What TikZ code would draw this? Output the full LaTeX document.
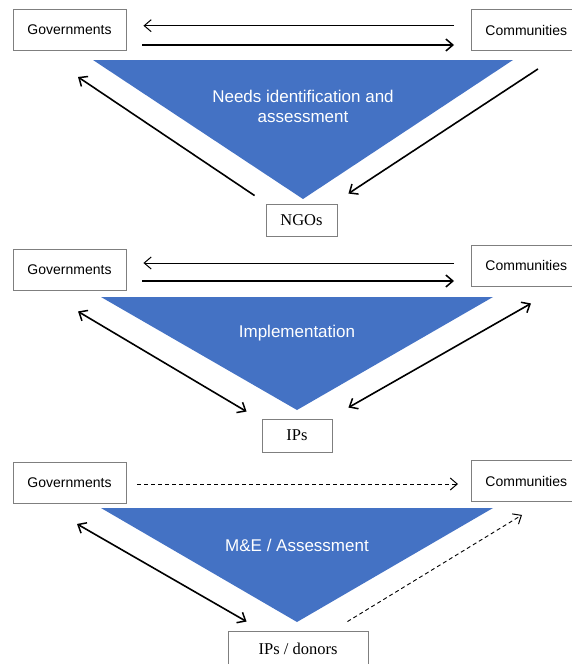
\documentclass[tikz,border=0pt]{standalone}
\usepackage{fontspec}
\setmainfont{Liberation Sans}
\newfontfamily\seriffont{Liberation Serif}
\usetikzlibrary{arrows.meta,calc}
\definecolor{triblue}{HTML}{4472C4}
\definecolor{boxgray}{HTML}{7F7F7F}
\begin{document}
\begin{tikzpicture}[x=1pt,y=-1pt,
 box/.style={draw=boxgray, line width=0.9pt, fill=white, minimum width=113pt, minimum height=41pt, inner sep=0pt, font=\fontsize{14}{16}\selectfont},
 cbox/.style={box, anchor=west, inner xsep=14pt, text width=106pt, align=left},
 sbox/.style={draw=boxgray, line width=0.9pt, fill=white, inner sep=0pt, font=\seriffont\fontsize{16.5}{19}\selectfont},
 tri/.style={fill=triblue},
 trilabel/.style={text=white, align=center, font=\fontsize{17}{20}\selectfont},
 thinarr/.style={line width=0.9pt, -{Straight Barb[length=7pt,width=12pt,line width=1pt]}},
 thickarr/.style={line width=1.9pt, -{Straight Barb[length=7pt,width=12pt,line width=1.5pt]}},
 diag/.style={line width=1.6pt, -{Straight Barb[length=7pt,width=12pt,line width=1.5pt]}},
 ddiag/.style={line width=1.6pt, {Straight Barb[length=7pt,width=12pt,line width=1.5pt]}-{Straight Barb[length=7pt,width=12pt,line width=1.5pt]}},
 dasharr/.style={line width=0.9pt, dash pattern=on 4pt off 3pt, -{Straight Barb[length=7pt,width=12pt,line width=1pt]}},
]
\useasboundingbox (0,0) rectangle (571,664);

% ---------- Panel 1 ----------
\fill[tri] (93,60) -- (513,60) -- (303,199) -- cycle;
\node[trilabel] (t1) at (303,106.5) {Needs identification and\\assessment};
\node[box] (gov1) at (69.5,30) {Governments};
\node[cbox] (com1) at (471,30) {Communities};
\node[sbox, minimum width=71pt, minimum height=32pt] (ngo) at (301.5,220) {NGOs};
\draw[thinarr] ($(com1.west)+(-17,-4.3)$) -- ($(gov1.east)+(17,-4.3)$);
\draw[thickarr] ($(gov1.east)+(16,15)$) -- ($(com1.west)+(-17,15)$);
\draw[diag] ($(ngo.north west)+(-11,-8)$) -- ($(gov1.south)+(8.5,26)$);
\draw[diag] ($(com1.south west)+(67,18)$) -- ($(ngo.north east)+(11,-10)$);

% ---------- Panel 2 ----------
\fill[tri] (101,297) -- (493,297) -- (297,410) -- cycle;
\node[trilabel] (t2) at (297,333) {Implementation};
\node[box] (gov2) at (69.5,269.5) {Governments};
\node[cbox] (com2) at (471,265.5) {Communities};
\node[sbox, minimum width=70pt, minimum height=33pt] (ips) at (297,435.5) {IPs};
\draw[thinarr] ($(com2.west)+(-17,-2.5)$) -- ($(gov2.east)+(17,-6.5)$);
\draw[thickarr] ($(gov2.east)+(16,11.5)$) -- ($(com2.west)+(-17,15.5)$);
\draw[ddiag] ($(gov2.south)+(8.5,21)$) -- ($(ips.north west)+(-15,-7)$);
\draw[ddiag] ($(ips.north east)+(16,-11)$) -- ($(com2.south west)+(60,17)$);

% ---------- Panel 3 ----------
\fill[tri] (101,508) -- (493,508) -- (297,622) -- cycle;
\node[trilabel] (t3) at (297,545) {M\&E / Assessment};
\node[box] (gov3) at (69.5,483) {Governments};
\node[cbox] (com3) at (471,481) {Communities};
\node[sbox, minimum width=140pt, minimum height=36pt] (ipd) at (298,649) {IPs / donors};
\draw[dasharr] ($(gov3.east)+(11,1)$) -- ($(com3.west)+(-13,3)$);
\draw[ddiag] ($(gov3.south)+(7.5,20)$) -- ($(ipd.north west)+(19,-9)$);
\draw[dasharr] ($(ipd.north east)+(-21,-9)$) -- ($(com3.south west)+(51,13)$);
\end{tikzpicture}
\end{document}
